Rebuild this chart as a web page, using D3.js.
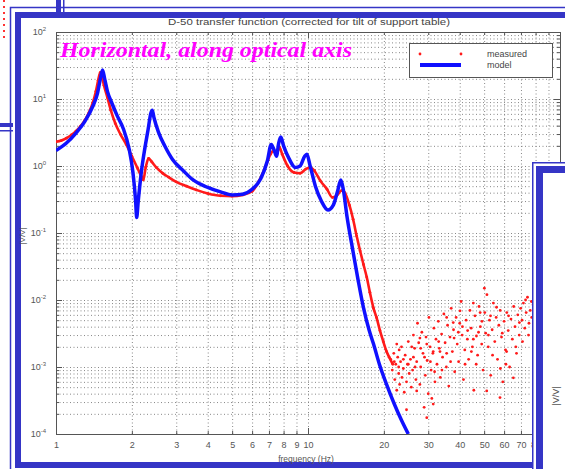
<!DOCTYPE html>
<html>
<head>
<meta charset="utf-8">
<script src="https://cdn.jsdelivr.net/npm/d3@7"></script>
<style>
body { margin: 0; background: #fff; }
svg { display: block; font-family: "Liberation Sans", Arial, sans-serif; }
</style>
</head>
<body>
<script>
const width = 565;
const height = 469;

// transfer function
const xLabels = [1, 2, 3, 4, 5, 6, 7, 8, 9, 10, 20, 30, 40, 50, 60, 70, 80, 90];
const yLabels = [1e2, 1e1, 1e0, 1e-1, 1e-2, 1e-3, 1e-4];

const model = [
	[1.00, 1.70], [1.10, 2.2], [1.20, 3.1], [1.30, 4.6], [1.40, 7.8], [1.46, 12],
	[1.50, 20], [1.53, 27], [1.56, 20], [1.60, 13], [1.67, 8.5], [1.75, 5.6],
	[1.85, 3.6], [1.95, 1.8], [2.02, 0.8], [2.07, 0.3], [2.09, 0.17], [2.12, 0.3],
	[2.18, 0.8], [2.25, 1.8], [2.32, 3.5], [2.38, 6.2], [2.41, 6.8], [2.45, 5.2],
	[2.55, 3.2], [2.7, 2.0], [2.9, 1.25], [3.2, 0.85], [3.5, 0.62], [4.0, 0.48],
	[4.5, 0.41], [5.0, 0.37], [5.5, 0.38], [6.0, 0.45], [6.5, 0.65], [6.9, 1.2],
	[7.15, 2.1], [7.35, 1.7], [7.5, 1.4], [7.65, 2.2], [7.8, 2.7], [8.0, 2.0],
	[8.4, 1.3], [8.9, 0.95], [9.3, 1.0], [9.7, 1.4], [9.9, 1.5], [10.2, 1.0],
	[10.7, 0.5], [11.3, 0.3], [12.0, 0.22], [12.6, 0.26], [13.1, 0.42], [13.5, 0.62],
	[13.8, 0.45], [14.3, 0.17], [15.0, 0.06], [15.8, 0.02], [16.6, 0.0077],
	[17.5, 0.0035], [18.2, 0.0022], [19.2, 0.0011], [20.5, 0.00055], [22.0, 0.00028],
	[23.5, 0.00016], [25.0, 0.0001]
];

const measuredLine = [
	[1.00, 2.3], [1.05, 2.4], [1.10, 2.6], [1.15, 2.9], [1.20, 3.3], [1.25, 3.9],
	[1.30, 4.8], [1.35, 6.2], [1.40, 8.8], [1.44, 13], [1.47, 19], [1.50, 25],
	[1.52, 22], [1.55, 16], [1.60, 10.5], [1.65, 6.8], [1.72, 4.3], [1.80, 3.0],
	[1.90, 2.1], [2.00, 1.4], [2.10, 0.95], [2.18, 0.7], [2.22, 0.62], [2.27, 0.95],
	[2.33, 1.3], [2.40, 1.15], [2.50, 0.95], [2.65, 0.78], [2.8, 0.68], [3.0, 0.58],
	[3.3, 0.5], [3.6, 0.44], [4.0, 0.39], [4.5, 0.36], [5.0, 0.355], [5.5, 0.37],
	[6.0, 0.42], [6.4, 0.6], [6.8, 1.0], [7.1, 1.5], [7.3, 1.7], [7.5, 1.5],
	[7.7, 1.9], [7.9, 1.5], [8.3, 1.0], [8.8, 0.8], [9.3, 0.78], [9.8, 0.9],
	[10.2, 0.96], [10.6, 0.85], [11.2, 0.6], [11.9, 0.45], [12.5, 0.34], [13.0, 0.36],
	[13.6, 0.43], [14.0, 0.4], [14.6, 0.26], [15.1, 0.16], [15.6, 0.09], [16.1, 0.054],
	[16.6, 0.034], [17.1, 0.022], [17.6, 0.013], [18.2, 0.0075], [18.7, 0.0055],
	[19.3, 0.0035], [19.9, 0.0024], [20.5, 0.0017], [21.0, 0.0014], [21.7, 0.0011]
];

const measuredScatter = [
	[21.3, 1.3e-3], [21.6, 9e-4], [21.9, 1.6e-3], [22.1, 6.5e-4], [22.3, 1.1e-3], [22.5, 4.5e-4],
	[22.7, 1.4e-3], [22.9, 8e-4], [23.1, 5.5e-4], [23.3, 1.2e-3], [23.5, 2.0e-3], [23.6, 7e-4],
	[23.9, 9.5e-4], [24.1, 4.2e-4], [24.3, 1.5e-3], [24.6, 6e-4], [24.8, 1.1e-3], [25.0, 2.4e-3],
	[25.2, 8e-4], [25.5, 1.3e-3], [25.7, 5e-4], [26.0, 9e-4], [26.2, 3.0e-3], [26.5, 1.9e-3],
	[26.8, 6.5e-4], [27.0, 1.2e-3], [27.2, 4.5e-3], [27.5, 2.3e-3], [27.8, 5.5e-4], [28.0, 1.0e-3],
	[28.3, 3.3e-3], [28.6, 1.6e-3], [28.9, 2.5e-4], [29.2, 7.5e-4], [29.4, 2.8e-3], [29.7, 1.25e-3],
	[30.0, 4.0e-4], [30.2, 5.5e-3], [30.5, 2.0e-3], [30.8, 9e-4], [31.0, 3.4e-4], [31.3, 1.6e-3],
	[31.6, 3.8e-3], [31.9, 6e-4], [32.2, 2.6e-3], [32.5, 1.1e-3], [32.9, 4.8e-3], [33.2, 1.9e-3],
	[33.5, 7e-4], [33.9, 3.1e-3], [34.2, 1.4e-3], [34.6, 6.2e-3], [35.0, 2.3e-3], [35.4, 1.0e-3],
	[35.8, 4.2e-3], [36.2, 5.2e-4], [36.6, 2.8e-3], [37.0, 7.5e-3], [37.4, 1.7e-3], [37.8, 3.6e-3],
	[38.2, 8.5e-4], [38.7, 5.5e-3], [39.1, 2.2e-3], [39.6, 1.2e-3], [40.0, 4.5e-3], [40.5, 9.5e-3],
	[40.9, 3.0e-3], [41.4, 6.5e-4], [41.9, 1.8e-3], [42.4, 5.0e-3], [42.9, 2.6e-3], [43.4, 1.3e-3],
	[43.9, 7.0e-3], [44.4, 3.8e-3], [44.9, 2.0e-3], [45.5, 4.5e-4], [46.0, 5.8e-3], [46.6, 2.9e-3],
	[47.1, 1.5e-3], [47.7, 8.0e-3], [48.3, 4.0e-3], [48.9, 2.2e-3], [49.5, 9e-4], [50.1, 1.5e-2],
	[50.3, 6.5e-3], [50.7, 3.2e-3], [51.3, 1.2e-2], [51.9, 2.0e-3], [52.5, 5.0e-3], [53.1, 7.5e-4],
	[53.8, 3.6e-3], [54.4, 9.0e-3], [55.1, 2.4e-3], [55.8, 5.5e-3], [56.5, 1.3e-3], [57.2, 4.2e-3],
	[57.9, 7.0e-3], [58.6, 2.8e-3], [59.3, 6.0e-4], [60.0, 4.8e-3], [60.8, 1.8e-3], [61.5, 6.5e-3],
	[62.3, 3.5e-3], [63.1, 1.0e-3], [63.9, 5.2e-3], [64.7, 2.6e-3], [65.5, 8.0e-3], [66.3, 4.0e-3],
	[67.2, 1.6e-3], [68.0, 6.0e-3], [68.9, 3.0e-3], [69.8, 7.5e-3], [70.7, 5.0e-3], [71.6, 9.0e-3],
	[72.5, 3.8e-3], [73.4, 6.5e-3], [74.3, 1.1e-2], [75.3, 4.5e-3], [76.2, 7.0e-3], [77.2, 5.5e-3],
	[78.2, 8.5e-3], [79.2, 6.0e-3],
	[24.6, 2.3e-4], [29.6, 1.75e-4], [31.4, 2.8e-4], [27.0, 4.4e-4], [22.5, 2.2e-3], [23.0, 1.8e-3],
	[25.8, 2.0e-3], [26.6, 1.0e-3], [28.0, 1.9e-3], [29.0, 1.4e-3], [30.6, 1.2e-3], [31.8, 8.5e-4],
	[33.0, 2.4e-3], [34.0, 9e-4], [35.5, 1.6e-3], [36.8, 1.2e-3], [38.0, 2.7e-3], [39.5, 3.3e-3],
	[41.0, 4.0e-3], [42.0, 1.1e-3], [43.0, 3.5e-3], [44.5, 1.7e-3], [45.3, 2.6e-3], [46.5, 1.1e-3],
	[47.5, 3.3e-3], [49.0, 4.8e-3], [51.2, 4.4e-4], [52.0, 3.0e-3], [54.0, 1.5e-3], [56.0, 7.8e-3],
	[57.8, 3.5e-4], [59.0, 3.2e-3], [61.0, 1.1e-3], [62.5, 5.8e-3], [65.3, 6.9e-4], [66.8, 2.0e-3],
	[69.0, 4.6e-3], [71.0, 2.4e-3], [73.0, 1.0e-2], [75.0, 3.0e-3], [77.0, 9.5e-3], [78.5, 4.0e-3],
	[61.4, 1.7e-3], [58.0, 9.5e-4], [53.0, 5.8e-3], [48.2, 6.5e-3], [45.3, 9.0e-3], [40.1, 6.9e-3],
	[37.7, 4.6e-3], [35.5, 5.5e-3], [33.4, 1.7e-3], [31.4, 1.7e-3], [29.6, 2.2e-3], [27.8, 2.7e-3],
	[26.2, 1.4e-3], [25.0, 1.1e-3], [23.9, 1.3e-3], [22.9, 1.0e-3], [22.0, 1.2e-3]
];

const frameBlue = "#3535c6";

const svg = d3.select("body").append("svg")
	.attr("width", width)
	.attr("height", height);

svg.append("rect").attr("width", width).attr("height", height).attr("fill", "#fff");

// bits of the windows behind
svg.append("line").attr("x1", 4).attr("x2", 4).attr("y1", 0).attr("y2", 42)
	.attr("stroke", "#f33").attr("stroke-width", 2).attr("stroke-dasharray", "2,4");
svg.append("rect").attr("x", 0).attr("y", 123).attr("width", 13).attr("height", 4).attr("fill", frameBlue);
svg.append("rect").attr("x", 0).attr("y", 130).attr("width", 13).attr("height", 1.5).attr("fill", frameBlue);
svg.append("rect").attr("x", 56).attr("y", 0).attr("width", 5).attr("height", 13).attr("fill", frameBlue);
svg.append("rect").attr("x", 63).attr("y", 0).attr("width", 1.5).attr("height", 13).attr("fill", frameBlue);

// main window frame
svg.append("rect").attr("x", 10.5).attr("y", 7.5).attr("width", 700).attr("height", 700)
	.attr("fill", "none").attr("stroke", frameBlue).attr("stroke-width", 1.5);
svg.append("rect").attr("x", 18).attr("y", 15).attr("width", 700).attr("height", 450)
	.attr("fill", "#fff").attr("stroke", frameBlue).attr("stroke-width", 6);

const x = d3.scaleLog().domain([1, 100]).range([56, 560]);
const y = d3.scaleLog().domain([1e-4, 1e2]).range([434, 32]);
const plotTop = y.range()[1], plotBottom = y.range()[0];
const plotLeft = x.range()[0], plotRight = x.range()[1];

const xAll = [];
[1, 10].forEach(d => { for (let k = 1; k <= 9; k++) xAll.push(d * k); });
xAll.push(100);
const yAll = [];
[1e-4, 1e-3, 1e-2, 1e-1, 1, 10].forEach(d => { for (let k = 1; k <= 9; k++) yAll.push(d * k); });
yAll.push(100);

// grid
const grid = svg.append("g");
grid.append("g").attr("transform", `translate(0,${plotBottom})`)
	.call(d3.axisBottom(x).tickValues(xAll.slice(1, -1)).tickSize(-(plotBottom - plotTop)).tickFormat(""));
grid.append("g").attr("transform", `translate(${plotLeft},0)`)
	.call(d3.axisLeft(y).tickValues(yAll.slice(1, -1)).tickSize(-(plotRight - plotLeft)).tickFormat(""));
grid.selectAll(".domain").remove();
grid.selectAll("line").attr("stroke", "#7a7a7a").attr("stroke-width", 0.9).attr("stroke-dasharray", "1,2.5");

// ticks, pointing inward
const isMajor = v => Math.abs(Math.log10(v) - Math.round(Math.log10(v))) < 1e-9;
const tickAxes = [
	[d3.axisBottom(x).tickValues(xAll), `translate(0,${plotBottom})`],
	[d3.axisTop(x).tickValues(xAll), `translate(0,${plotTop})`],
	[d3.axisLeft(y).tickValues(yAll), `translate(${plotLeft},0)`],
	[d3.axisRight(y).tickValues(yAll), `translate(${plotRight},0)`]
];
tickAxes.forEach(([ax, tr]) => {
	const g = svg.append("g").attr("transform", tr).call(ax.tickSize(-3).tickFormat(""));
	g.selectAll(".tick line").attr("stroke", "#555")
		.each(function (d) {
			if (isMajor(d)) {
				const l = d3.select(this);
				["x2", "y2"].forEach(a => { if (l.attr(a) != null && +l.attr(a) !== 0) l.attr(a, +l.attr(a) * 2); });
			}
		});
	g.select(".domain").attr("stroke", "#555");
});

// tick labels
const xl = svg.append("g").attr("transform", `translate(0,${plotBottom})`)
	.call(d3.axisBottom(x).tickValues(xLabels).tickSize(0).tickPadding(8).tickFormat(d => d));
xl.select(".domain").remove();
xl.selectAll("text").attr("font-size", 9).attr("fill", "#555").style("font-family", "Liberation Sans, Arial");

const yl = svg.append("g").attr("transform", `translate(${plotLeft},0)`)
	.call(d3.axisLeft(y).tickValues(yLabels).tickSize(0).tickPadding(10).tickFormat(""));
yl.select(".domain").remove();
yl.selectAll("text").attr("font-size", 9).attr("fill", "#555").style("font-family", "Liberation Sans, Arial")
	.each(function (d) {
		const t = d3.select(this);
		t.append("tspan").text("10");
		t.append("tspan").attr("dy", -4).attr("font-size", 6).text(Math.round(Math.log10(d)));
	});

svg.append("text").attr("x", 309).attr("y", 25).attr("text-anchor", "middle")
	.attr("font-size", 8.5).attr("fill", "#444").attr("textLength", 282).attr("lengthAdjust", "spacingAndGlyphs")
	.text("D-50 transfer function (corrected for tilt of support table)");
svg.append("text").attr("x", 306).attr("y", 462).attr("text-anchor", "middle")
	.attr("font-size", 8.5).attr("fill", "#555").text("frequency (Hz)");
svg.append("text").attr("transform", "translate(25,236) rotate(-90)").attr("text-anchor", "middle")
	.attr("font-size", 8).attr("fill", "#555").text("|V/V|");

// data
svg.append("clipPath").attr("id", "plot")
	.append("rect").attr("x", plotLeft).attr("y", plotTop)
	.attr("width", plotRight - plotLeft).attr("height", plotBottom - plotTop);

const line = d3.line().x(d => x(d[0])).y(d => y(d[1])).curve(d3.curveMonotoneX);
const plot = svg.append("g").attr("clip-path", "url(#plot)");

plot.append("path").datum(measuredLine).attr("d", line)
	.attr("fill", "none").attr("stroke", "#ff1a1a").attr("stroke-width", 2.6).attr("stroke-linejoin", "round");
plot.selectAll("circle.m").data(measuredLine.concat(measuredScatter)).enter()
	.append("circle").attr("class", "m")
	.attr("cx", d => x(d[0])).attr("cy", d => y(d[1])).attr("r", 1.4).attr("fill", "#ff1a1a");
plot.append("path").datum(model).attr("d", line)
	.attr("fill", "none").attr("stroke", "#1010ff").attr("stroke-width", 3.5).attr("stroke-linejoin", "round");

// annotation
svg.append("text").attr("x", 60).attr("y", 57)
	.style("font-family", "'Liberation Serif', 'Times New Roman', serif")
	.style("font-style", "italic").style("font-weight", "bold")
	.attr("font-size", 21).attr("fill", "#ff00ff").attr("textLength", 292).attr("lengthAdjust", "spacingAndGlyphs")
	.text("Horizontal, along optical axis");

// legend
const legend = svg.append("g");
legend.append("rect").attr("x", 409.5).attr("y", 43.5).attr("width", 143).attr("height", 34)
	.attr("fill", "#fff").attr("stroke", "#555");
legend.selectAll("circle").data([420, 461]).enter().append("circle")
	.attr("cx", d => d).attr("cy", 54).attr("r", 1.4).attr("fill", "#ff1a1a");
legend.append("line").attr("x1", 420).attr("x2", 461).attr("y1", 65).attr("y2", 65)
	.attr("stroke", "#1010ff").attr("stroke-width", 4);
legend.append("text").attr("x", 487).attr("y", 57).attr("font-size", 9).attr("fill", "#444").text("measured");
legend.append("text").attr("x", 487).attr("y", 68).attr("font-size", 9).attr("fill", "#444").text("model");

// window on top at the right
svg.append("rect").attr("x", 532).attr("y", 162).attr("width", 40).attr("height", 320).attr("fill", "#fff");
svg.append("rect").attr("x", 532.75).attr("y", 162.75).attr("width", 60).attr("height", 400)
	.attr("fill", "none").attr("stroke", frameBlue).attr("stroke-width", 1.5);
svg.append("rect").attr("x", 539.5).attr("y", 169.5).attr("width", 60).attr("height", 400)
	.attr("fill", "#fff").attr("stroke", frameBlue).attr("stroke-width", 7);
svg.append("text").attr("transform", "translate(559,396) rotate(-90)").attr("text-anchor", "middle")
	.attr("font-size", 9).attr("fill", "#555").text("|V/V|");
</script>
</body>
</html>
